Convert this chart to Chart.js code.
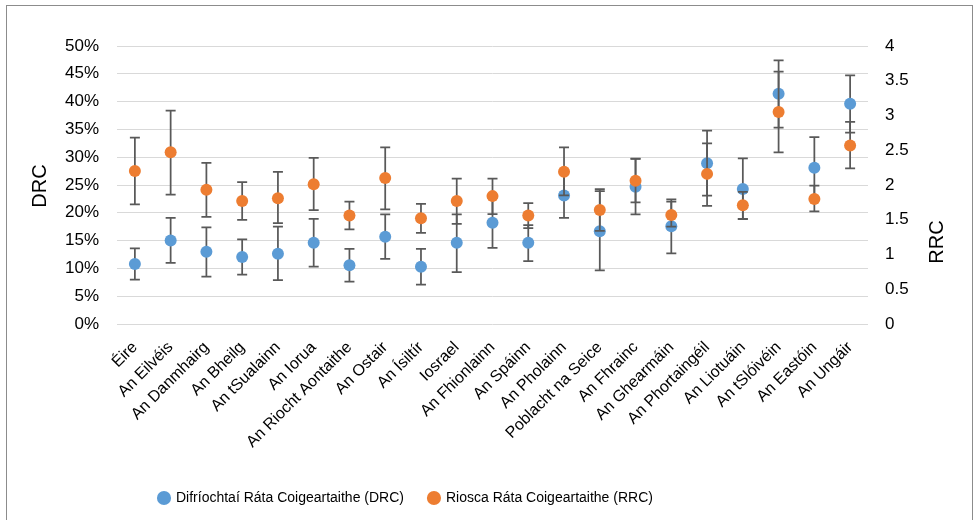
<!DOCTYPE html>
<html>
<head>
<meta charset="utf-8">
<script src="https://cdn.jsdelivr.net/npm/chart.js@4.4.1/dist/chart.umd.min.js"></script>
<style>
  html, body { margin: 0; padding: 0; background: #fff; }
  #wrap { width: 978px; height: 520px; position: relative; }
</style>
</head>
<body>
<div id="wrap"><canvas id="chart"></canvas></div>
<script>
const countries = ['Éire', 'An Eilvéis', 'An Danmhairg', 'An Bheilg', 'An tSualainn', 'An Iorua',
    'An Riocht Aontaithe', 'An Ostair', 'An Ísiltír', 'Iosrael', 'An Fhionlainn', 'An Spáinn',
    'An Pholainn', 'Poblacht na Seice', 'An Fhrainc', 'An Ghearmáin', 'An Phortaingéil',
    'An Liotuáin', 'An tSlóivéin', 'An Eastóin', 'An Ungáir'];

// DRC in %, with confidence interval ends
const drc     = [10.8, 15.0, 13.0, 12.05, 12.65, 14.6, 10.55, 15.7, 10.3, 14.6, 18.2, 14.6, 23.1, 16.7, 24.7, 17.6, 28.9, 24.3, 41.4, 28.1, 39.6];
const drcLow  = [8.0, 11.0, 8.5, 8.9, 7.9, 10.3, 7.6, 11.7, 7.1, 9.35, 13.7, 11.3, 19.1, 9.65, 19.7, 12.7, 23.1, 18.9, 35.3, 22.6, 34.4];
const drcHigh = [13.6, 19.1, 17.4, 15.2, 17.5, 18.9, 13.5, 19.7, 13.5, 19.7, 22.7, 17.8, 27.1, 23.9, 29.7, 22.4, 34.8, 29.8, 47.4, 33.6, 44.7];

// RRC (ratio), with confidence interval ends
const rrc     = [2.20, 2.47, 1.93, 1.77, 1.81, 2.01, 1.56, 2.10, 1.52, 1.77, 1.84, 1.56, 2.19, 1.64, 2.06, 1.57, 2.16, 1.71, 3.05, 1.80, 2.57];
const rrcLow  = [1.72, 1.86, 1.54, 1.50, 1.45, 1.64, 1.36, 1.65, 1.31, 1.44, 1.58, 1.38, 1.85, 1.34, 1.75, 1.40, 1.70, 1.51, 2.47, 1.62, 2.24];
const rrcHigh = [2.68, 3.07, 2.32, 2.04, 2.19, 2.39, 1.76, 2.54, 1.73, 2.09, 2.09, 1.74, 2.54, 1.94, 2.38, 1.76, 2.60, 1.90, 3.63, 1.99, 2.91];

const FONT = '"Liberation Sans", Arial, Helvetica, sans-serif';
Chart.defaults.font.family = FONT;
Chart.defaults.color = '#000';

// error bars, drawn just under each series' own markers
const errorBars = {
    id: 'errorBars',
    beforeDatasetDraw(chart, args) {
        const ds = chart.data.datasets[args.index];
        if (!ds.errLow) return;
        const { ctx } = chart;
        const x = chart.scales.x;
        const y = chart.scales[ds.yAxisID];
        ctx.save();
        ctx.strokeStyle = '#595959';
        ctx.lineWidth = 1.75;
        ds.data.forEach((v, i) => {
            const px = x.getPixelForValue(i);
            const lo = y.getPixelForValue(ds.errLow[i]);
            const hi = y.getPixelForValue(ds.errHigh[i]);
            ctx.beginPath();
            ctx.moveTo(px, lo); ctx.lineTo(px, hi);
            ctx.moveTo(px - 5, lo); ctx.lineTo(px + 5, lo);
            ctx.moveTo(px - 5, hi); ctx.lineTo(px + 5, hi);
            ctx.stroke();
        });
        ctx.restore();
    }
};

// frame and axis titles (RRC reads bottom to top as in the original)
const decorations = {
    id: 'decorations',
    afterLayout(chart) {
        // nudge the legend so it starts where the original one does
        const lg = chart.legend;
        const w = lg.right - lg.left;
        lg.left = 134;
        lg.right = lg.left + w;
    },
    afterDraw(chart) {
        const { ctx } = chart;
        ctx.save();
        ctx.strokeStyle = '#8c8c8c';
        ctx.lineWidth = 1;
        ctx.strokeRect(6.5, 5.5, 966, 530);
        ctx.fillStyle = '#000';
        ctx.font = '20px ' + FONT;
        ctx.textAlign = 'center';
        ctx.textBaseline = 'middle';
        ctx.translate(40, 186);
        ctx.rotate(-Math.PI / 2);
        ctx.fillText('DRC', 0, 0);
        ctx.setTransform(1, 0, 0, 1, 0, 0);
        ctx.translate(937, 242);
        ctx.rotate(-Math.PI / 2);
        ctx.fillText('RRC', 0, 0);
        ctx.restore();
    }
};

const ctx = document.getElementById('chart').getContext('2d');
new Chart(ctx, {
    type: 'line',
    data: {
        labels: countries,
        datasets: [
            {
                label: 'Difríochtaí Ráta Coigeartaithe (DRC)',
                data: drc,
                errLow: drcLow,
                errHigh: drcHigh,
                yAxisID: 'y',
                showLine: false,
                pointRadius: 6,
                pointHoverRadius: 6,
                pointBorderWidth: 0,
                backgroundColor: '#5b9bd5',
                borderColor: '#5b9bd5',
                order: 2
            },
            {
                label: 'Riosca Ráta Coigeartaithe (RRC)',
                data: rrc,
                errLow: rrcLow,
                errHigh: rrcHigh,
                yAxisID: 'y1',
                showLine: false,
                pointRadius: 6,
                pointHoverRadius: 6,
                pointBorderWidth: 0,
                backgroundColor: '#ed7d31',
                borderColor: '#ed7d31',
                order: 1
            }
        ]
    },
    options: {
        responsive: true,
        maintainAspectRatio: false,
        animation: false,
        layout: { padding: { top: 46, left: 0, right: 0, bottom: 5 } },
        scales: {
            x: {
                offset: true,
                grid: { display: false },
                border: { display: false },
                ticks: {
                    autoSkip: false,
                    maxRotation: 45,
                    minRotation: 45,
                    padding: 6,
                    font: { size: 16 }
                },
                afterFit(scale) { scale.height = 142; }
            },
            y: {
                position: 'left',
                min: 0,
                max: 50,
                grid: { color: '#d9d9d9', lineWidth: 1, drawTicks: false },
                border: { display: false },
                ticks: {
                    stepSize: 5,
                    padding: 18,
                    font: { size: 17 },
                    callback: v => v + '%'
                },
                afterFit(scale) { scale.width = 117; }
            },
            y1: {
                position: 'right',
                min: 0,
                max: 4,
                grid: { display: false, drawTicks: false },
                border: { display: false },
                ticks: {
                    stepSize: 0.5,
                    padding: 17,
                    font: { size: 17 },
                    callback: v => String(v)
                },
                afterFit(scale) { scale.width = 110; }
            }
        },
        plugins: {
            legend: {
                position: 'bottom',
                align: 'start',
                labels: {
                    usePointStyle: true,
                    pointStyle: 'circle',
                    boxWidth: 10,
                    boxHeight: 10,
                    padding: 25,
                    color: '#000',
                    font: { size: 14 },
                    sort: (a, b) => a.datasetIndex - b.datasetIndex
                }
            },
            tooltip: { enabled: false }
        }
    },
    plugins: [errorBars, decorations]
});
</script>
</body>
</html>
